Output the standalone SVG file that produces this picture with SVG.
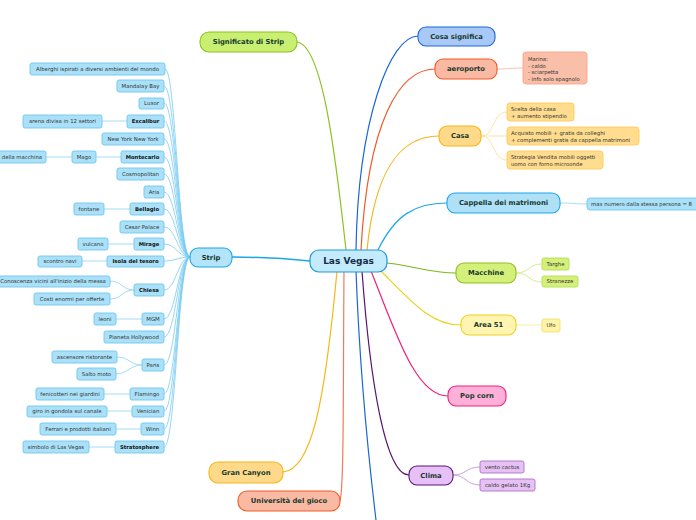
<svg xmlns="http://www.w3.org/2000/svg" width="696" height="520" viewBox="0 0 696 520">
<style>
text{font-family:"DejaVu Sans","Verdana",sans-serif;}
.s{fill:#abe1f8;stroke:#6fc7ee;stroke-width:0.9}
.st{font-size:5.4px;fill:#333;text-anchor:middle}
.b{font-weight:bold;fill:#111;font-size:5.3px}
.m{font-size:6.8px;font-weight:bold;fill:#17392c;text-anchor:middle}
.sl{fill:none;stroke:#77ccf1;stroke-width:0.8}
.gl{fill:none;stroke:#a5dcf5;stroke-width:1}
.lt{font-size:5.3px;fill:#333}
</style>
<g id="connectors" fill="none">
<path d="M310,261 C280,258 260,257 232,257" stroke="#1ea6e8" stroke-width="1.5"/>
<path d="M346,250 C335,150 322,45 297,42" stroke="#8dc21f" stroke-width="1.2"/>
<path d="M356,250 C358,120 390,36 418,36" stroke="#1a66d6" stroke-width="1.2"/>
<path d="M361,250 C368,120 400,69 435,69" stroke="#f05a28" stroke-width="1.2"/>
<path d="M367,250 C375,170 400,136 439,136" stroke="#f5b617" stroke-width="1.2"/>
<path d="M378,250 C395,215 415,203 447,203" stroke="#1ea6e8" stroke-width="1.2"/>
<path d="M386,263 C410,265 430,273 456,273" stroke="#7fb51a" stroke-width="1.2"/>
<path d="M381,271 C410,300 430,325 461,325" stroke="#ecd21c" stroke-width="1.2"/>
<path d="M371,271 C395,330 415,396 448,396" stroke="#f0207a" stroke-width="1.2"/>
<path d="M362,271 C370,380 385,475 409,475" stroke="#5a1470" stroke-width="1.2"/>
<path d="M356,271 C360,380 370,470 376,520" stroke="#1a66d6" stroke-width="1.2"/>
<path d="M344,271 C343,400 344,485 340,501" stroke="#f07a5a" stroke-width="1.2"/>
<path d="M337,271 C325,400 312,470 283,472" stroke="#f5b617" stroke-width="1.2"/>
<path d="M497,69 C510,69 510,68 523,68" stroke="#f9c4b0" stroke-width="1"/>
<path d="M481,136 C495,136 492,112 507,112" stroke="#ffe2a0" stroke-width="1"/>
<path d="M481,136 L507,136" stroke="#ffe2a0" stroke-width="1"/>
<path d="M481,136 C495,136 492,160 507,160" stroke="#ffe2a0" stroke-width="1"/>
<path d="M560,203 C572,203 575,204 587,204" stroke="#a5dcf5" stroke-width="1"/>
<path d="M516,273 C530,273 528,264 542,264" stroke="#d4ee90" stroke-width="1"/>
<path d="M516,273 C530,273 528,282 542,282" stroke="#d4ee90" stroke-width="1"/>
<path d="M516,325 L542,325" stroke="#fbeea0" stroke-width="1"/>
<path d="M453,475 C466,475 466,467 480,467" stroke="#c9a0d8" stroke-width="1"/>
<path d="M453,475 C466,475 466,485 480,485" stroke="#c9a0d8" stroke-width="1"/>
<g class="sl">
<path d="M190,257 C178,257 176,69 165,69"/>
<path d="M190,257 C178,257 176,86 164,86"/>
<path d="M190,257 C178,257 176,103 164,103"/>
<path d="M190,257 C178,257 176,121 164,121"/>
<path d="M190,257 C178,257 176,139 164,139"/>
<path d="M190,257 C178,257 176,157 164,157"/>
<path d="M190,257 C178,257 176,174 164,174"/>
<path d="M190,257 C178,257 176,192 164,192"/>
<path d="M190,257 C178,257 176,209 164,209"/>
<path d="M190,257 C178,257 176,227 164,227"/>
<path d="M190,257 C178,257 176,244 164,244"/>
<path d="M190,257 C178,257 176,261 164,261"/>
<path d="M190,257 C178,257 176,290 164,290"/>
<path d="M190,257 C178,257 176,319 164,319"/>
<path d="M190,257 C178,257 176,337 164,337"/>
<path d="M190,257 C178,257 176,365 164,365"/>
<path d="M190,257 C178,257 176,394 164,394"/>
<path d="M190,257 C178,257 176,411 164,411"/>
<path d="M190,257 C178,257 176,429 164,429"/>
<path d="M190,257 C178,257 176,447 164,447"/>
</g>
<g class="gl">
<path d="M127,121 L102,121"/>
<path d="M121,157 L96,157"/>
<path d="M72,157 L46,157"/>
<path d="M130,209 L104,209"/>
<path d="M134,244 L108,244"/>
<path d="M107,261 L82,261"/>
<path d="M134,290 C122,290 122,281 110,281"/>
<path d="M134,290 C122,290 122,299 110,299"/>
<path d="M142,319 L116,319"/>
<path d="M142,365 C130,365 129,357 117,357"/>
<path d="M142,365 C130,365 128,374 116,374"/>
<path d="M130,394 L104,394"/>
<path d="M132,411 L107,411"/>
<path d="M141,429 L116,429"/>
<path d="M115,447 L89,447"/>
</g>
</g>
<g id="las-vegas"><rect x="310" y="250" width="77" height="22" rx="9" fill="#c3ebfb" stroke="#1e9ad8" stroke-width="1.2"/><text x="348.5" y="264.3" font-size="9" font-weight="bold" fill="#142a48" text-anchor="middle">Las Vegas</text></g>
<g id="strip"><rect x="190" y="248" width="42" height="19" rx="8" fill="#b3e4fa" stroke="#1ea6e8" stroke-width="1.1"/><text x="211" y="259.8" class="m">Strip</text></g>
<g id="significato"><rect x="200" y="32" width="97" height="20" rx="9" fill="#c9ef72" stroke="#8dc21f" stroke-width="1.1"/><text x="248.5" y="44.3" class="m">Significato di Strip</text></g>
<g id="cosa"><rect x="418" y="27" width="77" height="19" rx="8" fill="#a8c9f8" stroke="#1a66d6" stroke-width="1.1"/><text x="456.5" y="38.8" class="m">Cosa significa</text></g>
<g id="aeroporto"><rect x="435" y="59" width="62" height="20" rx="8" fill="#f9b9a3" stroke="#f05a28" stroke-width="1.1"/><text x="466" y="71.3" class="m">aeroporto</text></g>
<g id="marina"><rect x="523" y="52" width="64" height="32" rx="3" fill="#f9bfa9" stroke="#f7a58a" stroke-width="0.9"/><text class="lt"><tspan x="528" y="61">Marina:</tspan><tspan x="528" y="67.5">- caldo</tspan><tspan x="528" y="74">- sciarpetta</tspan><tspan x="528" y="80.5">- info solo spagnolo</tspan></text></g>
<g id="casa"><rect x="439" y="126" width="42" height="20" rx="8" fill="#ffd98a" stroke="#f5b617" stroke-width="1.1"/><text x="460" y="138.3" class="m">Casa</text></g>
<g id="scelta"><rect x="507" y="103" width="67" height="18" rx="3" fill="#ffdc8e" stroke="#ffcb5a" stroke-width="0.9"/><text class="lt"><tspan x="511" y="110.5">Scelta della casa</tspan><tspan x="511" y="117.5">+ aumento stipendio</tspan></text></g>
<g id="acquisto"><rect x="507" y="127" width="132" height="18" rx="3" fill="#ffdc8e" stroke="#ffcb5a" stroke-width="0.9"/><text class="lt"><tspan x="511" y="134.5">Acquisto mobili + gratis da colleghi</tspan><tspan x="511" y="141.5">+ complementi gratis da cappella matrimoni</tspan></text></g>
<g id="strategia"><rect x="507" y="151" width="96" height="18" rx="3" fill="#ffdc8e" stroke="#ffcb5a" stroke-width="0.9"/><text class="lt"><tspan x="511" y="158.5">Strategia Vendita mobili oggetti</tspan><tspan x="511" y="165.5">uomo con forno microonde</tspan></text></g>
<g id="cappella"><rect x="447" y="193" width="113" height="20" rx="8" fill="#aee0f8" stroke="#1ea6e8" stroke-width="1.1"/><text x="503.5" y="205.3" class="m">Cappella dei matrimoni</text></g>
<g id="max"><rect x="587" y="198" width="120" height="12" rx="3" class="s"/><text x="591" y="205.8" class="lt">max numero dalla stessa persona = 8</text></g>
<g id="macchine"><rect x="456" y="263" width="60" height="20" rx="8" fill="#d4f07a" stroke="#8dc21f" stroke-width="1.1"/><text x="486" y="275.3" class="m">Macchine</text></g>
<g id="targhe"><rect x="542" y="258" width="27" height="12" rx="2" fill="#d4f07a" stroke="#b5dc50" stroke-width="0.9"/><text x="555.5" y="265.8" class="st">Targhe</text></g>
<g id="stranezze"><rect x="542" y="276" width="36" height="11" rx="2" fill="#d4f07a" stroke="#b5dc50" stroke-width="0.9"/><text x="560" y="283.3" class="st">Stranezze</text></g>
<g id="area51"><rect x="461" y="315" width="55" height="20" rx="8" fill="#fff5b0" stroke="#f0d020" stroke-width="1.1"/><text x="488.5" y="327.3" class="m">Area 51</text></g>
<g id="ufo"><rect x="542" y="319" width="18" height="13" rx="2" fill="#fff3a8" stroke="#f5e070" stroke-width="0.9"/><text x="551" y="327.3" class="st">Ufo</text></g>
<g id="popcorn"><rect x="448" y="386" width="58" height="20" rx="8" fill="#ffb0d8" stroke="#f0207a" stroke-width="1.1"/><text x="477" y="398.3" class="m">Pop corn</text></g>
<g id="clima"><rect x="409" y="466" width="44" height="19" rx="8" fill="#e8c0f8" stroke="#5a1470" stroke-width="1.1"/><text x="431" y="477.8" class="m">Clima</text></g>
<g id="vento"><rect x="480" y="461" width="44" height="12" rx="2" fill="#e6c2f4" stroke="#b070c8" stroke-width="0.9"/><text x="502" y="468.8" class="st">vento cactus</text></g>
<g id="caldo"><rect x="480" y="479" width="55" height="12" rx="2" fill="#e6c2f4" stroke="#b070c8" stroke-width="0.9"/><text x="507.5" y="486.8" class="st">caldo gelato 1Kg</text></g>
<g id="grancanyon"><rect x="209" y="462" width="74" height="21" rx="9" fill="#ffd98a" stroke="#f5b617" stroke-width="1.1"/><text x="246" y="474.8" class="m">Gran Canyon</text></g>
<g id="universita"><rect x="238" y="491" width="102" height="20" rx="9" fill="#f9b9a3" stroke="#f05a28" stroke-width="1.1"/><text x="289" y="503.3" class="m">Università del gioco</text></g>
<g id="alberghi"><rect x="30" y="63" width="135" height="12" rx="2" class="s"/><text x="97.5" y="70.8" class="st">Alberghi ispirati a diversi ambienti del mondo</text></g>
<g id="mandalay"><rect x="117" y="80" width="47" height="12" rx="2" class="s"/><text x="140.5" y="87.8" class="st">Mandalay Bay</text></g>
<g id="luxor"><rect x="139" y="98" width="25" height="11" rx="2" class="s"/><text x="151.5" y="105.3" class="st">Luxor</text></g>
<g id="excalibur"><rect x="127" y="115" width="37" height="13" rx="2" class="s"/><text x="145.5" y="123.3" class="st b">Excalibur</text></g>
<g id="arena"><rect x="23" y="115" width="79" height="13" rx="2" class="s"/><text x="62.5" y="123.3" class="st">arena divisa in 12 settori</text></g>
<g id="newyork"><rect x="102" y="133" width="62" height="12" rx="2" class="s"/><text x="133" y="140.8" class="st">New York New York</text></g>
<g id="montecarlo"><rect x="121" y="151" width="43" height="12" rx="2" class="s"/><text x="142.5" y="158.8" class="st b">Montecarlo</text></g>
<g id="mago"><rect x="72" y="151" width="24" height="12" rx="2" class="s"/><text x="84" y="158.8" class="st">Mago</text></g>
<g id="macchina"><rect x="-20" y="151" width="66" height="12" rx="2" class="s"/><text x="42" y="158.8" class="lt" text-anchor="end">della macchina</text></g>
<g id="cosmopolitan"><rect x="117" y="168" width="47" height="12" rx="2" class="s"/><text x="140.5" y="175.8" class="st">Cosmopolitan</text></g>
<g id="aria"><rect x="144" y="186" width="20" height="12" rx="2" class="s"/><text x="154" y="193.8" class="st">Aria</text></g>
<g id="bellagio"><rect x="130" y="203" width="34" height="12" rx="2" class="s"/><text x="147" y="210.8" class="st b">Bellagio</text></g>
<g id="fontane"><rect x="74" y="203" width="30" height="12" rx="2" class="s"/><text x="89" y="210.8" class="st">fontane</text></g>
<g id="cesar"><rect x="120" y="221" width="44" height="12" rx="2" class="s"/><text x="142" y="228.8" class="st">Cesar Palace</text></g>
<g id="mirage"><rect x="134" y="238" width="30" height="12" rx="2" class="s"/><text x="149" y="245.8" class="st b">Mirage</text></g>
<g id="vulcano"><rect x="78" y="238" width="30" height="12" rx="2" class="s"/><text x="93" y="245.8" class="st">vulcano</text></g>
<g id="isola"><rect x="107" y="256" width="57" height="11" rx="2" class="s"/><text x="135.5" y="263.3" class="st b">Isola del tesoro</text></g>
<g id="scontro"><rect x="38" y="256" width="44" height="11" rx="2" class="s"/><text x="60" y="263.3" class="st">scontro navi</text></g>
<g id="chiesa"><rect x="134" y="284" width="30" height="12" rx="2" class="s"/><text x="149" y="291.8" class="st b">Chiesa</text></g>
<g id="conoscenza"><rect x="-4" y="276" width="114" height="11" rx="2" class="s"/><text x="53" y="283.3" class="st">Conoscenza vicini all'inizio della messa</text></g>
<g id="costi"><rect x="34" y="293" width="76" height="12" rx="2" class="s"/><text x="72" y="300.8" class="st">Costi enormi per offerte</text></g>
<g id="mgm"><rect x="142" y="313" width="22" height="12" rx="2" class="s"/><text x="153" y="320.8" class="st">MGM</text></g>
<g id="leoni"><rect x="94" y="313" width="22" height="12" rx="2" class="s"/><text x="105" y="320.8" class="st">leoni</text></g>
<g id="pianeta"><rect x="104" y="331" width="60" height="12" rx="2" class="s"/><text x="134" y="338.8" class="st">Pianeta Hollywood</text></g>
<g id="paris"><rect x="142" y="359" width="22" height="12" rx="2" class="s"/><text x="153" y="366.8" class="st">Paris</text></g>
<g id="ascensore"><rect x="52" y="351" width="65" height="12" rx="2" class="s"/><text x="84.5" y="358.8" class="st">ascensore ristorante</text></g>
<g id="salto"><rect x="77" y="368" width="39" height="12" rx="2" class="s"/><text x="96.5" y="375.8" class="st">Salto moto</text></g>
<g id="flamingo"><rect x="130" y="388" width="34" height="12" rx="2" class="s"/><text x="147" y="395.8" class="st">Flamingo</text></g>
<g id="fenicotteri"><rect x="36" y="388" width="68" height="12" rx="2" class="s"/><text x="70" y="395.8" class="st">fenicotteri nei giardini</text></g>
<g id="venician"><rect x="132" y="406" width="32" height="11" rx="2" class="s"/><text x="148" y="413.3" class="st">Venician</text></g>
<g id="gondola"><rect x="27" y="406" width="80" height="11" rx="2" class="s"/><text x="67" y="413.3" class="st">giro in gondola sul canale</text></g>
<g id="winn"><rect x="141" y="423" width="23" height="12" rx="2" class="s"/><text x="152.5" y="430.8" class="st">Winn</text></g>
<g id="ferrari"><rect x="40" y="423" width="76" height="12" rx="2" class="s"/><text x="78" y="430.8" class="st">Ferrari e prodotti italiani</text></g>
<g id="stratosphere"><rect x="115" y="441" width="49" height="12" rx="2" class="s"/><text x="139.5" y="448.8" class="st b">Stratosphere</text></g>
<g id="simbolo"><rect x="23" y="441" width="66" height="12" rx="2" class="s"/><text x="56" y="448.8" class="st">simbolo di Las Vegas</text></g>
</svg>
